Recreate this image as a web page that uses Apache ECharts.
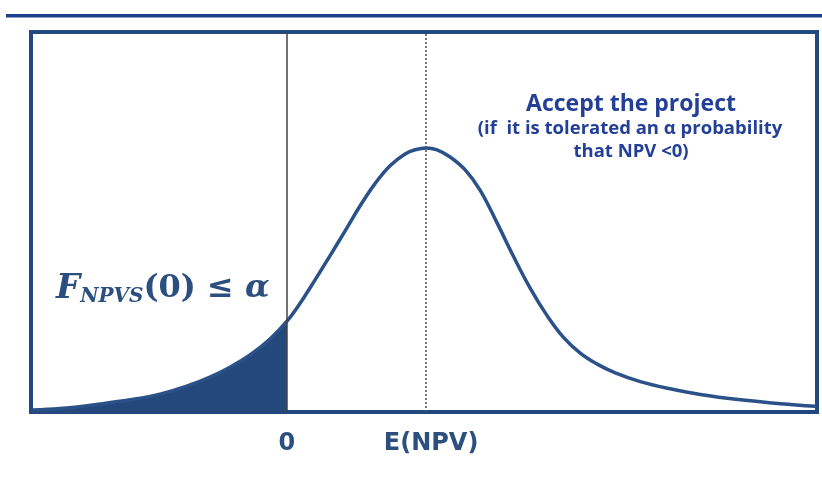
<!DOCTYPE html>
<html>
<head>
<meta charset="utf-8">
<script src="https://cdn.jsdelivr.net/npm/echarts@6/dist/echarts.min.js"></script>
<style>html,body{margin:0;padding:0;background:#fff}#c{width:822px;height:480px}</style>
</head>
<body>
<div id="c"></div>
<script>
// NPV values (E(NPV) = 100) and density (arbitrary units)
var npvValues = [-183, -163.3, -134.5, -112.9, -91.4, -69.8, -55.4, -41, -26.6, -12.2, 0, 9.4, 20.1, 30.9, 41.7, 52.5, 63.3, 74.1, 84.9, 92.1, 100, 107.9, 117.3, 128.1, 138.8, 151.1, 162.6, 174.8, 187.1, 198.6, 210.8, 223, 236, 254, 275.5, 297, 326, 354.7, 380];
var densityValues = [0.5, 0.9, 2.1, 3.2, 4.7, 7.1, 9.2, 11.8, 15, 19.2, 23.9, 28.6, 34.7, 41.1, 47.6, 54.2, 60.1, 64.8, 67.9, 69, 69.5, 69, 67.1, 63.7, 58.4, 49.7, 41.1, 32.6, 25.3, 19.7, 15.5, 12.6, 10.3, 8.0, 6.1, 4.6, 3.2, 2.2, 1.5];
var tickValues = [0, 100];
var tickLabels = ['0', 'E(NPV)'];
var thresholdValue = 0;
var expectedValue = 100;

var curve = npvValues.map(function (x, i) { return [x, densityValues[i]]; });
var tail = curve.filter(function (p) { return p[0] <= thresholdValue; });

var chart = echarts.init(document.getElementById('c'), null, { renderer: 'canvas' });
chart.setOption({
  animation: false,
  backgroundColor: '#ffffff',
  grid: { left: 31, right: 5, top: 32, bottom: 68, show: true, borderColor: '#22497f', borderWidth: 4, backgroundColor: 'transparent' },
  xAxis: {
    type: 'value', min: -184, max: 381,
    axisLine: { show: false }, axisTick: { show: false }, splitLine: { show: false },
    axisLabel: {
      customValues: tickValues,
      margin: 20,
      formatter: function (v) {
        var i = tickValues.indexOf(v);
        if (i < 0) return '';
        return i === 0 ? '{z|' + tickLabels[i] + '}' : '{e|' + tickLabels[i] + '}';
      },
      rich: {
        z: { fontFamily: 'DejaVu Sans', fontWeight: 'bold', fontSize: 24, color: '#2b4f7e' },
        e: { fontFamily: 'DejaVu Sans', fontWeight: 'bold', fontSize: 24, color: '#2b4f7e', padding: [0, 0, 0, 10] }
      }
    }
  },
  yAxis: { type: 'value', min: 0, max: 100, show: false, splitLine: { show: false } },
  series: [
    {
      type: 'line', data: tail, smooth: 0.4, symbol: 'none',
      lineStyle: { width: 0 }, areaStyle: { color: '#23487c', opacity: 1 }, z: 2
    },
    {
      type: 'line', data: curve, smooth: 0.4, symbol: 'none',
      lineStyle: { color: '#2b5189', width: 3.5 }, z: 3,
      markLine: {
        silent: true, symbol: 'none', label: { show: false },
        data: [
          { xAxis: thresholdValue, lineStyle: { color: '#444', width: 1.5, type: 'solid' } },
          { xAxis: expectedValue, lineStyle: { color: '#555', width: 1.6, type: [2, 2] } }
        ]
      }
    }
  ],
  graphic: [
    { type: 'rect', shape: { x: 6, y: 14, width: 816, height: 3.5 }, style: { fill: '#1b3f8b' } },
    {
      type: 'text', x: 631, y: 104,
      style: { text: 'Accept the project', align: 'center', verticalAlign: 'middle', font: 'bold 23px "Open Sans"', fill: '#233f97' }
    },
    {
      type: 'text', x: 630, y: 129,
      style: { text: '(if  it is tolerated an \u03b1 probability', align: 'center', verticalAlign: 'middle', font: 'bold 18.5px "Open Sans"', fill: '#233f97' }
    },
    {
      type: 'text', x: 631, y: 152,
      style: { text: 'that NPV <0)', align: 'center', verticalAlign: 'middle', font: 'bold 18.5px "Open Sans"', fill: '#233f97' }
    },
    {
      type: 'text', x: 56, y: 289,
      style: {
        text: '{f|F}{s|NPVS}{p|(0) \u2264 }{a|\u03b1}',
        verticalAlign: 'middle',
        rich: {
          f: { fontFamily: 'DejaVu Serif', fontStyle: 'italic', fontWeight: 'bold', fontSize: 34, fill: '#2b4f7e' },
          s: { fontFamily: 'DejaVu Serif', fontStyle: 'italic', fontWeight: 'bold', fontSize: 20, fill: '#2b4f7e', padding: [16, 0, 0, 0] },
          p: { fontFamily: 'DejaVu Serif', fontWeight: 'bold', fontSize: 32, fill: '#2b4f7e' },
          a: { fontFamily: 'DejaVu Serif', fontStyle: 'italic', fontWeight: 'bold', fontSize: 32, fill: '#2b4f7e' }
        }
      }
    }
  ]
});
</script>
</body>
</html>
